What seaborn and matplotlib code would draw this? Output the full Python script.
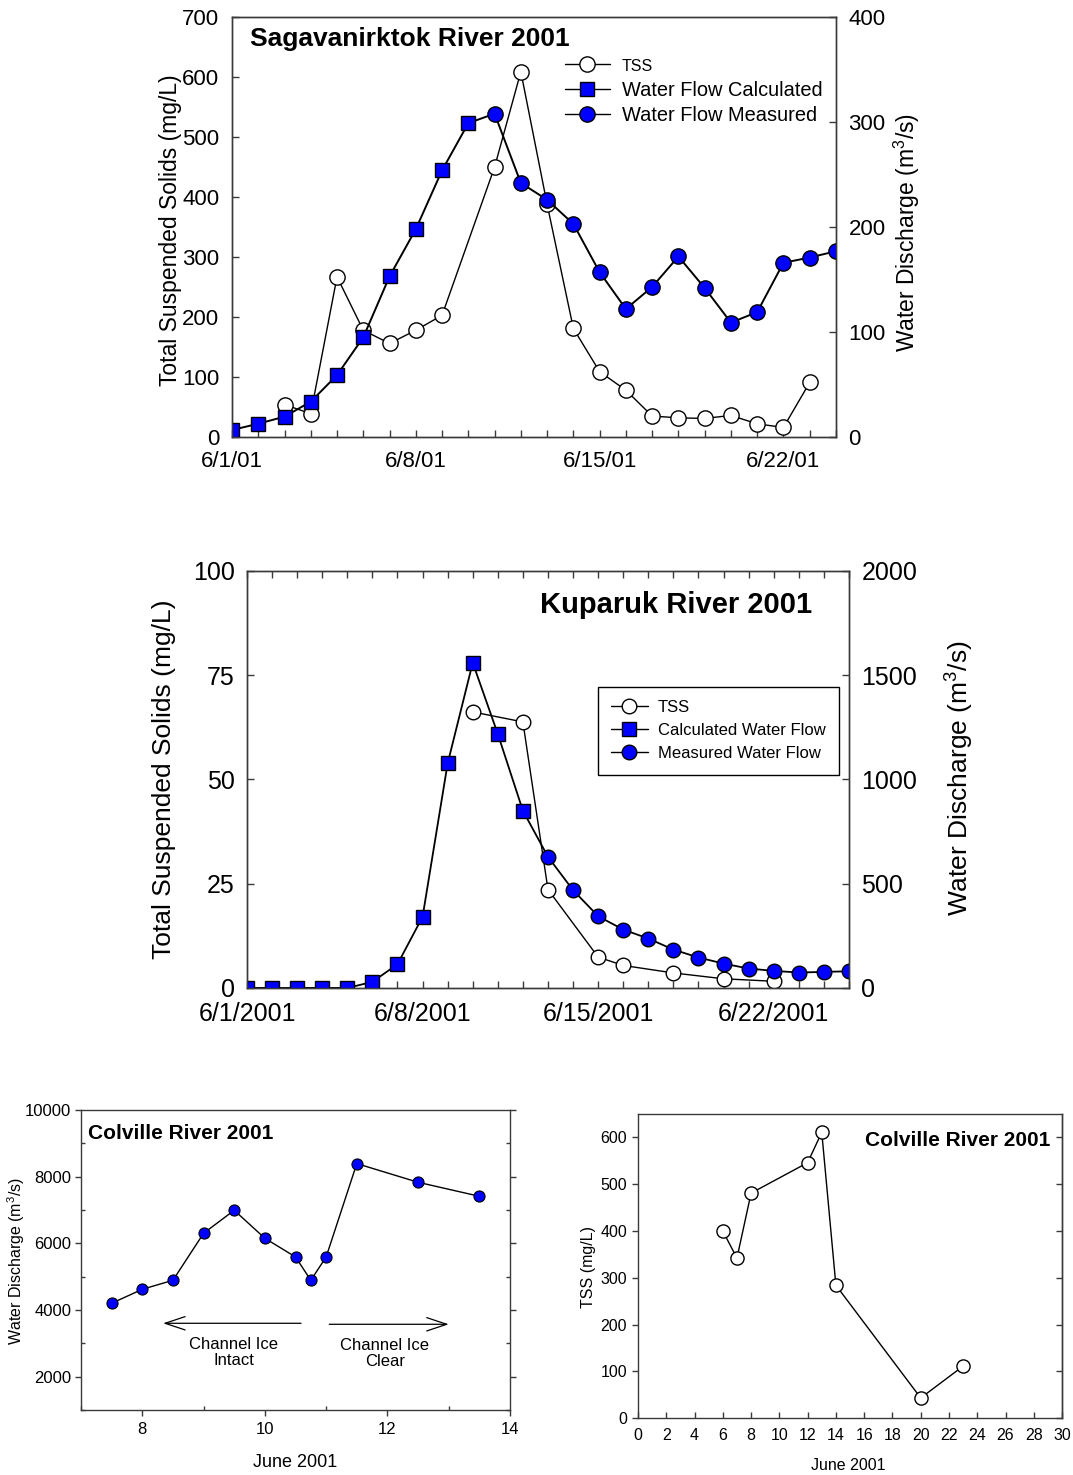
import matplotlib
matplotlib.use('Agg')
import matplotlib.pyplot as plt
import seaborn as sns
from matplotlib.lines import Line2D
from matplotlib.ticker import MultipleLocator, FixedLocator

# ---------------- data ----------------
# Sagavanirktok River 2001 (day of June)
sag_tss_days = [3, 4, 5, 6, 7, 8, 9, 11, 12, 13, 14, 15, 16, 17, 18, 19, 20, 21, 22, 23]
sag_tss = [54, 39, 267, 178, 156, 178, 203, 450, 609, 388, 181, 109, 78, 35, 32, 31, 36, 22, 16, 91]
sag_calc_days = [1, 2, 3, 4, 5, 6, 7, 8, 9, 10]
sag_calc = [6.7, 12.7, 19.4, 33.7, 59, 95, 153, 198, 254, 299]
sag_meas_days = [11, 12, 13, 14, 15, 16, 17, 18, 19, 20, 21, 22, 23, 24]
sag_meas = [308, 242, 226, 203, 157, 122, 143, 172, 142, 109, 119, 166, 171, 177]
sag_xticks = [1, 8, 15, 22]
sag_xticklabels = ['6/1/01', '6/8/01', '6/15/01', '6/22/01']

# Kuparuk River 2001
kup_tss_days = [10, 12, 13, 15, 16, 18, 20, 22]
kup_tss = [66.2, 63.8, 23.6, 7.4, 5.4, 3.6, 2.2, 1.6]
kup_calc_days = [1, 2, 3, 4, 5, 6, 7, 8, 9, 10, 11, 12]
kup_calc = [0, 0, 0, 0, 0, 29, 114, 341, 1077, 1560, 1218, 850]
kup_meas_days = [13, 14, 15, 16, 17, 18, 19, 20, 21, 22, 23, 24, 25]
kup_meas = [629, 469, 344, 280, 237, 184, 146, 117, 93, 82, 74, 77, 80]
kup_xticks = [1, 8, 15, 22]
kup_xticklabels = ['6/1/2001', '6/8/2001', '6/15/2001', '6/22/2001']

# Colville River 2001 discharge
col_q_days = [7.5, 8, 8.5, 9, 9.5, 10, 10.5, 10.75, 11, 11.5, 12.5, 13.5]
col_q = [4200, 4620, 4890, 6300, 6990, 6150, 5590, 4890, 5590, 8390, 7830, 7410]

# Colville River 2001 TSS
col_tss_days = [6, 7, 8, 12, 13, 14, 20, 23]
col_tss = [400, 342, 481, 546, 611, 284, 43, 111]

# ---------------- style ----------------
sns.set_theme(style='ticks')
plt.rcParams['font.family'] = ['Liberation Sans', 'DejaVu Sans']
plt.rcParams['mathtext.default'] = 'regular'
plt.rcParams['axes.linewidth'] = 1.0
plt.rcParams['text.color'] = 'black'
plt.rcParams['axes.labelcolor'] = 'black'
plt.rcParams['xtick.labelcolor'] = 'black'
plt.rcParams['ytick.labelcolor'] = 'black'
SPINE = '#3a3a3a'
BLUE = '#0000ff'

fig = plt.figure(figsize=(10.73, 14.75), dpi=100)


def style_spines(ax):
    for s in ax.spines.values():
        s.set_color(SPINE)
        s.set_linewidth(1.0)
        s.set_visible(True)


# =============== Sagavanirktok ===============
ax1 = fig.add_axes([0.2162, 0.7037, 0.5629, 0.2847])
ax1b = ax1.twinx()
sns.lineplot(x=sag_tss_days, y=sag_tss, ax=ax1, color='black', linewidth=1.0,
             marker='o', markersize=11, markerfacecolor='white',
             markeredgecolor='black', markeredgewidth=1.0, sort=False)
flow_days = sag_calc_days + sag_meas_days
flow_vals = sag_calc + sag_meas
sns.lineplot(x=flow_days, y=flow_vals, ax=ax1b, color='black', linewidth=1.4, sort=False)
sns.lineplot(x=sag_calc_days, y=sag_calc, ax=ax1b, color='black', linestyle='',
             marker='s', markersize=10, markerfacecolor=BLUE,
             markeredgecolor='black', markeredgewidth=1.0, sort=False)
sns.lineplot(x=sag_meas_days, y=sag_meas, ax=ax1b, color='black', linestyle='',
             marker='o', markersize=11, markerfacecolor=BLUE,
             markeredgecolor='black', markeredgewidth=1.0, sort=False)
ax1.set_xlim(1, 24)
ax1.set_ylim(0, 700)
ax1b.set_ylim(0, 400)
ax1.xaxis.set_major_locator(FixedLocator(sag_xticks))
ax1.set_xticklabels(sag_xticklabels)
ax1.xaxis.set_minor_locator(MultipleLocator(1))
ax1.yaxis.set_major_locator(MultipleLocator(100))
ax1b.yaxis.set_major_locator(MultipleLocator(100))
ax1.tick_params(axis='both', which='both', direction='in', length=5, width=1,
                color=SPINE, labelsize=16, pad=10)
ax1.tick_params(axis='y', pad=9)
ax1b.tick_params(axis='y', direction='in', length=5, width=1, color=SPINE,
                 labelsize=16, pad=9)
ax1.set_xlabel('')
ax1.set_ylabel('Total Suspended Solids (mg/L)', fontsize=16.5)
ax1.yaxis.set_label_coords(-0.083, 0.493)
ax1b.set_ylabel('Water Discharge (m$^3$/s)', fontsize=16.5)
ax1b.yaxis.set_label_coords(1.093, 0.488)
style_spines(ax1)
style_spines(ax1b)
ax1.text(0.03, 0.947, 'Sagavanirktok River 2001', transform=ax1.transAxes,
         fontsize=19, fontweight='bold', ha='left', va='center')
h1 = [Line2D([], [], color='black', lw=1, marker='o', ms=11, mfc='white', mec='black'),
      Line2D([], [], color='black', lw=1, marker='s', ms=10, mfc=BLUE, mec='black'),
      Line2D([], [], color='black', lw=1, marker='o', ms=11, mfc=BLUE, mec='black')]
leg1 = ax1b.legend(h1, ['TSS', 'Water Flow Calculated', 'Water Flow Measured'],
                   loc='upper left', bbox_to_anchor=(0.551, 0.905), frameon=False,
                   fontsize=14.4, handlelength=2.25, handletextpad=0.6,
                   labelspacing=0.33, borderpad=0, borderaxespad=0)
leg1.get_texts()[0].set_fontsize(11.5)

# =============== Kuparuk ===============
ax2 = fig.add_axes([0.2302, 0.3302, 0.5610, 0.2827])
ax2b = ax2.twinx()
sns.lineplot(x=kup_tss_days, y=kup_tss, ax=ax2, color='black', linewidth=1.0,
             marker='o', markersize=10.5, markerfacecolor='white',
             markeredgecolor='black', markeredgewidth=1.0, sort=False)
kflow_days = kup_calc_days + kup_meas_days
kflow_vals = kup_calc + kup_meas
sns.lineplot(x=kflow_days, y=kflow_vals, ax=ax2b, color='black', linewidth=1.3, sort=False)
sns.lineplot(x=kup_calc_days, y=kup_calc, ax=ax2b, color='black', linestyle='',
             marker='s', markersize=9.5, markerfacecolor=BLUE,
             markeredgecolor='black', markeredgewidth=1.0, sort=False)
sns.lineplot(x=kup_meas_days, y=kup_meas, ax=ax2b, color='black', linestyle='',
             marker='o', markersize=10.5, markerfacecolor=BLUE,
             markeredgecolor='black', markeredgewidth=1.0, sort=False)
ax2.set_xlim(1, 25)
ax2.set_ylim(0, 100)
ax2b.set_ylim(0, 2000)
ax2.xaxis.set_major_locator(FixedLocator(kup_xticks))
ax2.set_xticklabels(kup_xticklabels)
ax2.xaxis.set_minor_locator(MultipleLocator(1))
ax2.yaxis.set_major_locator(MultipleLocator(25))
ax2b.yaxis.set_major_locator(MultipleLocator(500))
ax2.tick_params(axis='both', which='both', direction='in', length=5, width=1,
                color=SPINE, labelsize=18, pad=10, top=True)
ax2.tick_params(axis='y', pad=9)
ax2b.tick_params(axis='y', direction='in', length=5, width=1, color=SPINE,
                 labelsize=18, pad=9)
ax2.set_xlabel('')
ax2.set_ylabel('Total Suspended Solids (mg/L)', fontsize=19)
ax2.yaxis.set_label_coords(-0.118, 0.501)
ax2b.set_ylabel('Water Discharge (m$^3$/s)', fontsize=19)
ax2b.yaxis.set_label_coords(1.157, 0.504)
style_spines(ax2)
style_spines(ax2b)
ax2.text(0.9385, 0.918, 'Kuparuk River 2001', transform=ax2.transAxes,
         fontsize=21, fontweight='bold', ha='right', va='center')
h2 = [Line2D([], [], color='black', lw=1, marker='o', ms=10.5, mfc='white', mec='black'),
      Line2D([], [], color='black', lw=1, marker='s', ms=9.5, mfc=BLUE, mec='black'),
      Line2D([], [], color='black', lw=1, marker='o', ms=10.5, mfc=BLUE, mec='black')]
leg2 = ax2b.legend(h2, ['TSS', 'Calculated Water Flow', 'Measured Water Flow'],
                   loc='upper right', bbox_to_anchor=(0.983, 0.722), frameon=True,
                   fancybox=False, edgecolor='black', framealpha=1,
                   fontsize=12, handlelength=2.2, handletextpad=0.6,
                   labelspacing=0.48, borderpad=0.8, borderaxespad=0)
leg2.get_frame().set_linewidth(1.0)

# =============== Colville discharge ===============
ax3 = fig.add_axes([0.0755, 0.0441, 0.3998, 0.2034])
sns.lineplot(x=col_q_days, y=col_q, ax=ax3, color='black', linewidth=1.0,
             marker='o', markersize=8, markerfacecolor=BLUE,
             markeredgecolor='black', markeredgewidth=0.8, sort=False)
ax3.set_xlim(7, 14)
ax3.set_ylim(1000, 10000)
ax3.xaxis.set_major_locator(MultipleLocator(2))
ax3.xaxis.set_minor_locator(MultipleLocator(1))
ax3.yaxis.set_major_locator(MultipleLocator(2000))
ax3.yaxis.set_minor_locator(MultipleLocator(1000))
ax3.tick_params(axis='both', which='major', direction='out', length=4, width=1,
                color=SPINE, labelsize=12, pad=3)
ax3.tick_params(axis='x', which='major', pad=5)
ax3.tick_params(axis='both', which='minor', direction='in', length=3, width=1, color=SPINE)
ax3.tick_params(axis='y', which='both', right=True)
ax3.tick_params(axis='x', which='both', top=False)
style_spines(ax3)
ax3.set_xlabel('June 2001', fontsize=13)
ax3.xaxis.set_label_coords(0.499, -0.147)
ax3.set_ylabel('Water Discharge (m$^3$/s)', fontsize=11.5)
ax3.yaxis.set_label_coords(-0.125, 0.497)
ax3.text(0.016, 0.923, 'Colville River 2001', transform=ax3.transAxes,
         fontsize=15, fontweight='bold', ha='left', va='center')
arrow_kw = dict(arrowstyle='->,head_length=0.72,head_width=0.24', lw=0.9,
                color='black', shrinkA=0, shrinkB=0, mutation_scale=20)
ax3.annotate('', xy=(8.34, 3600), xytext=(10.59, 3600), arrowprops=arrow_kw)
ax3.annotate('', xy=(13.0, 3570), xytext=(11.05, 3570), arrowprops=arrow_kw)
ax3.text(9.49, 2725, 'Channel Ice\nIntact', ha='center', va='center',
         fontsize=12, linespacing=1.1)
ax3.text(11.96, 2700, 'Channel Ice\nClear', ha='center', va='center',
         fontsize=12, linespacing=1.1)

# =============== Colville TSS ===============
ax4 = fig.add_axes([0.5946, 0.0386, 0.3952, 0.2061])
sns.lineplot(x=col_tss_days, y=col_tss, ax=ax4, color='black', linewidth=1.0,
             marker='o', markersize=9.5, markerfacecolor='white',
             markeredgecolor='black', markeredgewidth=1.0, sort=False)
ax4.set_xlim(0, 30)
ax4.set_ylim(0, 650)
ax4.xaxis.set_major_locator(MultipleLocator(2))
ax4.yaxis.set_major_locator(FixedLocator([0, 100, 200, 300, 400, 500, 600]))
ax4.tick_params(axis='x', direction='in', length=4, width=1, color=SPINE,
                labelsize=11.5, pad=7)
ax4.tick_params(axis='y', direction='out', length=4, width=1, color=SPINE,
                labelsize=11.5, pad=4)
style_spines(ax4)
ax4r = ax4.secondary_yaxis('right')
ax4r.yaxis.set_major_locator(FixedLocator([0, 100, 200, 300, 400, 500, 600]))
ax4r.tick_params(axis='y', direction='in', length=4, width=1, color=SPINE, labelright=False)
ax4r.spines['right'].set_color(SPINE)
ax4.set_xlabel('June 2001', fontsize=11.5)
ax4.xaxis.set_label_coords(0.495, -0.132)
ax4.set_ylabel('TSS (mg/L)', fontsize=11.5)
ax4.yaxis.set_label_coords(-0.099, 0.497)
ax4.text(0.972, 0.914, 'Colville River 2001', transform=ax4.transAxes,
         fontsize=15, fontweight='bold', ha='right', va='center')

fig.savefig('out.png', dpi=100)
